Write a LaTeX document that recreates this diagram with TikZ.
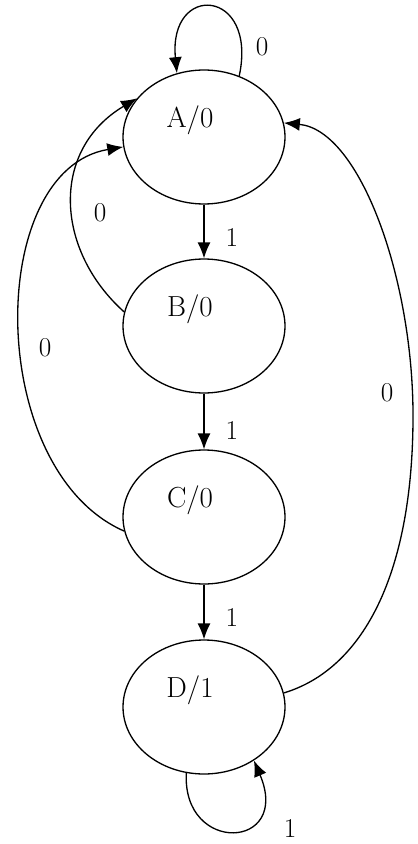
\documentclass[tikz,border=0pt]{standalone}
\usetikzlibrary{arrows.meta,shapes.geometric}
\tikzset{
  state/.style={ellipse, draw, line width=0.75pt, minimum width=3.24cm, minimum height=2.68cm, inner sep=0pt},
  statetext/.style={label={[xshift=-0.28cm,yshift=0.34cm,font=\fontsize{16.5}{20}\selectfont]center:#1}},
  trans/.style={-{Latex[length=0.32cm,width=0.26cm]}, line width=0.75pt},
  lbl/.style={font=\fontsize{15.5}{18}\selectfont}
}
\begin{document}
\begin{tikzpicture}[x=0.02cm,y=0.02cm]
\useasboundingbox (0,0) rectangle (417,-844);
% states
\node[state,statetext=A/0] (A) at (204,-137) {};
\node[state,statetext=B/0] (B) at (204,-326) {};
\node[state,statetext=C/0] (C) at (204,-517) {};
\node[state,statetext=D/1] (D) at (204,-707) {};
% input 1 goes down the chain
\draw[trans] (A) -- (B) node[lbl,pos=0.62,right=0.3cm] (lAB) {1};
\draw[trans] (B) -- (C) node[lbl,pos=0.66,right=0.3cm] (lBC) {1};
\draw[trans] (C) -- (D) node[lbl,pos=0.6,right=0.3cm] (lCD) {1};
% self loops
\draw[trans] (A.60) .. controls (258,12) and (168,18) .. (A.113);
\node[lbl] (lAA) at (262,-47) {0};
\draw[trans] (D.255) .. controls (182,-855) and (292,-850) .. (D.313);
\node[lbl] (lDD) at (290,-828) {1};
% input 0 goes back to A
\draw[trans] (B.170) .. controls (55,-250) and (50,-150) .. (A.150);
\node[lbl] (lBA) at (100,-213) {0};
\draw[trans] (C.190) .. controls (-15,-470) and (-15,-170) .. (A.187);
\node[lbl] (lCA) at (45,-348) {0};
\draw[trans] (D.10) .. controls (360,-670) and (412,-580) .. (413,-420)
  .. controls (414,-280) and (360,-130) .. (A.10);
\node[lbl] (lDA) at (387,-393) {0};
\end{tikzpicture}
\end{document}
